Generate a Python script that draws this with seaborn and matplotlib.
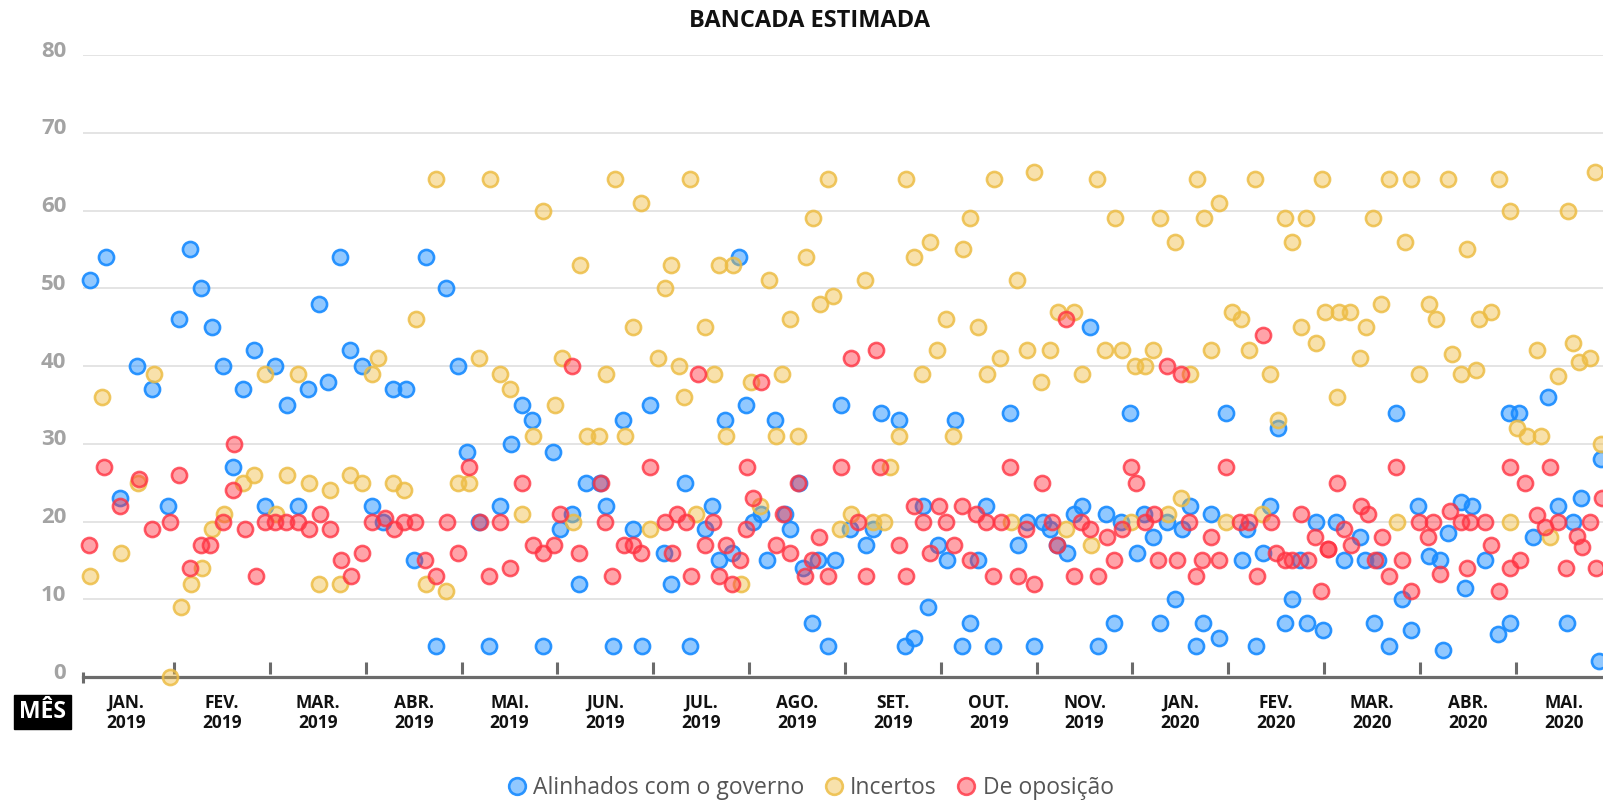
import matplotlib
matplotlib.use("Agg")
import matplotlib.pyplot as plt
import matplotlib.transforms as mtransforms
from matplotlib.lines import Line2D
import pandas as pd
import seaborn as sns

# posicao = mes desde jan/2019 (inteiro = inicio do mes; dezembro nao aparece no eixo)
meses = ["JAN.\n2019", "FEV.\n2019", "MAR.\n2019", "ABR.\n2019", "MAI.\n2019",
         "JUN.\n2019", "JUL.\n2019", "AGO.\n2019", "SET.\n2019", "OUT.\n2019",
         "NOV.\n2019", "JAN.\n2020", "FEV.\n2020", "MAR.\n2020", "ABR.\n2020",
         "MAI.\n2020"]

governo_mes = [0.12, 0.29, 0.44, 0.61, 0.77, 0.94, 1.05, 1.17, 1.28, 1.40, 1.51, 1.61, 1.72, 1.83,
               1.95, 2.05, 2.18, 2.29, 2.40, 2.51, 2.61, 2.73, 2.84, 2.96, 3.07, 3.18, 3.28, 3.42,
               3.50, 3.63, 3.73, 3.84, 3.96, 4.06, 4.18, 4.29, 4.40, 4.52, 4.63, 4.73, 4.85, 4.95,
               5.03, 5.15, 5.23, 5.30, 5.44, 5.51, 5.58, 5.68, 5.79, 5.88, 5.97, 6.11, 6.19, 6.33,
               6.38, 6.54, 6.61, 6.69, 6.75, 6.82, 6.89, 6.97, 7.04, 7.12, 7.19, 7.27, 7.37, 7.43,
               7.52, 7.56, 7.66, 7.72, 7.82, 7.90, 7.96, 8.05, 8.22, 8.29, 8.38, 8.56, 8.63, 8.72,
               8.81, 8.87, 8.97, 9.06, 9.15, 9.22, 9.31, 9.39, 9.47, 9.55, 9.72, 9.81, 9.90, 9.97,
               10.07, 10.14, 10.21, 10.32, 10.39, 10.47, 10.56, 10.64, 10.72, 10.81, 10.88, 10.97,
               11.05, 11.12, 11.21, 11.29, 11.36, 11.44, 11.52, 11.60, 11.66, 11.74, 11.82, 11.90,
               11.98, 12.14, 12.20, 12.29, 12.36, 12.44, 12.52, 12.59, 12.67, 12.75, 12.82, 12.92,
               12.99, 13.12, 13.21, 13.37, 13.43, 13.52, 13.56, 13.68, 13.75, 13.81, 13.91, 13.98,
               14.09, 14.21, 14.24, 14.29, 14.43, 14.47, 14.54, 14.68, 14.81, 14.93, 14.94, 15.03,
               15.18, 15.34, 15.44, 15.53, 15.60, 15.68, 15.87, 15.89]
governo_val = [51, 54, 23, 40, 37, 22, 46, 55, 50, 45, 40, 27, 37, 42,
               22, 40, 35, 22, 37, 48, 38, 54, 42, 40, 22, 20, 37, 37,
               15, 54, 4, 50, 40, 29, 20, 4, 22, 30, 35, 33, 4, 29,
               19, 21, 12, 25, 25, 22, 4, 33, 19, 4, 35, 16, 12, 25,
               4, 19, 22, 15, 33, 16, 54, 35, 20, 21, 15, 33, 21, 19,
               25, 14, 7, 15, 4, 15, 35, 19, 17, 19, 34, 33, 4, 5,
               22, 9, 17, 15, 33, 4, 7, 15, 22, 4, 34, 17, 20, 4,
               20, 19, 17, 16, 21, 22, 45, 4, 21, 7, 20, 34,
               16, 21, 18, 7, 20, 10, 19, 22, 4, 7, 21, 5,
               34, 15, 19, 4, 16, 22, 32, 7, 10, 15, 7, 20,
               6, 20, 15, 18, 15, 7, 15, 4, 34, 10, 6, 22,
               15.5, 15, 3.5, 18.5, 22.5, 11.5, 22, 15, 5.5, 34, 7, 34,
               18, 36, 22, 7, 20, 23, 2, 28]

incertos_mes = [0.12, 0.25, 0.45, 0.62, 0.79, 0.96, 1.07, 1.18, 1.29, 1.40, 1.52, 1.72, 1.83, 1.95,
                2.06, 2.18, 2.29, 2.41, 2.51, 2.63, 2.73, 2.84, 2.96, 3.07, 3.13, 3.28, 3.40, 3.52,
                3.63, 3.73, 3.84, 3.96, 4.08, 4.18, 4.30, 4.40, 4.51, 4.63, 4.74, 4.85, 4.97, 5.05,
                5.16, 5.24, 5.31, 5.43, 5.51, 5.60, 5.70, 5.79, 5.87, 5.97, 6.05, 6.12, 6.19, 6.27,
                6.32, 6.38, 6.45, 6.54, 6.63, 6.69, 6.76, 6.83, 6.92, 7.02, 7.11, 7.21, 7.28, 7.34,
                7.43, 7.51, 7.59, 7.67, 7.74, 7.82, 7.88, 7.95, 8.06, 8.21, 8.29, 8.41, 8.47, 8.56,
                8.64, 8.72, 8.80, 8.89, 8.96, 9.05, 9.13, 9.23, 9.30, 9.39, 9.48, 9.56, 9.62, 9.73,
                9.80, 9.90, 9.97, 10.05, 10.14, 10.22, 10.31, 10.39, 10.47, 10.57, 10.63, 10.71,
                10.82, 10.89, 10.99, 11.03, 11.13, 11.21, 11.29, 11.37, 11.44, 11.51, 11.60, 11.67,
                11.75, 11.82, 11.90, 11.98, 12.04, 12.13, 12.22, 12.28, 12.35, 12.44, 12.52, 12.59,
                12.67, 12.76, 12.81, 12.92, 12.98, 13.01, 13.13, 13.16, 13.27, 13.37, 13.44, 13.51,
                13.59, 13.68, 13.76, 13.84, 13.91, 13.99, 14.09, 14.17, 14.29, 14.33, 14.43, 14.49,
                14.58, 14.62, 14.74, 14.83, 14.94, 14.94, 15.01, 15.12, 15.22, 15.26, 15.36, 15.44,
                15.55, 15.60, 15.66, 15.77, 15.83, 15.89]
incertos_val = [13, 36, 16, 25, 39, 0, 9, 12, 14, 19, 21, 25, 26, 39,
                21, 26, 39, 25, 12, 24, 12, 26, 25, 39, 41, 25, 24, 46,
                12, 64, 11, 25, 25, 41, 64, 39, 37, 21, 31, 60, 35, 41,
                20, 53, 31, 31, 39, 64, 31, 45, 61, 19, 41, 50, 53, 40,
                36, 64, 21, 45, 39, 53, 31, 53, 12, 38, 22, 51, 31, 39,
                46, 31, 54, 59, 48, 64, 49, 19, 21, 51, 20, 20, 27, 31,
                64, 54, 39, 56, 42, 46, 31, 55, 59, 45, 39, 64, 41, 20,
                51, 42, 65, 38, 42, 47, 19, 47, 39, 17, 64, 42,
                59, 42, 20, 40, 40, 42, 59, 21, 56, 23, 39, 64,
                59, 42, 61, 20, 47, 46, 42, 64, 21, 39, 33, 59,
                56, 45, 59, 43, 64, 47, 36, 47, 47, 41, 45, 59,
                48, 64, 20, 56, 64, 39, 48, 46, 64, 41.5, 39, 55,
                39.5, 46, 47, 64, 60, 20, 32, 31, 42, 31, 18, 38.7,
                60, 43, 40.5, 41, 65, 30]

oposicao_mes = [0.11, 0.27, 0.44, 0.63, 0.77, 0.96, 1.05, 1.17, 1.28, 1.38, 1.51, 1.62, 1.63, 1.74,
                1.85, 1.95, 2.05, 2.17, 2.29, 2.41, 2.52, 2.63, 2.74, 2.85, 2.96, 3.06, 3.20, 3.29,
                3.40, 3.51, 3.62, 3.73, 3.85, 3.96, 4.08, 4.19, 4.29, 4.40, 4.51, 4.63, 4.75, 4.85,
                4.96, 5.03, 5.15, 5.23, 5.45, 5.50, 5.57, 5.69, 5.79, 5.87, 5.97, 6.12, 6.20, 6.25,
                6.34, 6.39, 6.47, 6.54, 6.62, 6.69, 6.76, 6.82, 6.90, 6.97, 6.98, 7.04, 7.12, 7.28,
                7.35, 7.43, 7.51, 7.58, 7.66, 7.73, 7.82, 7.96, 8.06, 8.14, 8.22, 8.32, 8.37, 8.56,
                8.64, 8.72, 8.81, 8.89, 8.98, 9.05, 9.14, 9.22, 9.30, 9.37, 9.47, 9.55, 9.63, 9.72,
                9.81, 9.89, 9.97, 10.06, 10.16, 10.21, 10.31, 10.39, 10.46, 10.56, 10.64, 10.73,
                10.81, 10.89, 10.98, 11.04, 11.13, 11.22, 11.27, 11.36, 11.46, 11.51, 11.59, 11.66,
                11.73, 11.82, 11.90, 11.98, 12.12, 12.22, 12.30, 12.36, 12.45, 12.50, 12.59, 12.66,
                12.76, 12.83, 12.91, 12.97, 13.04, 13.04, 13.13, 13.21, 13.28, 13.38, 13.46, 13.53,
                13.60, 13.68, 13.75, 13.81, 13.91, 13.99, 14.08, 14.14, 14.21, 14.31, 14.43, 14.49,
                14.52, 14.68, 14.74, 14.82, 14.94, 14.94, 15.04, 15.10, 15.22, 15.30, 15.36, 15.44,
                15.52, 15.64, 15.69, 15.77, 15.84, 15.90]
oposicao_val = [17, 27, 22, 25.5, 19, 20, 26, 14, 17, 17, 20, 24, 30, 19,
                13, 20, 20, 20, 20, 19, 21, 19, 15, 13, 16, 20, 20.5, 19,
                20, 20, 15, 13, 20, 16, 27, 20, 13, 20, 14, 25, 17, 16,
                17, 21, 40, 16, 25, 20, 13, 17, 17, 16, 27, 20, 16, 21,
                20, 13, 39, 17, 20, 13, 17, 12, 15, 19, 27, 23, 38, 17,
                21, 16, 25, 13, 15, 18, 13, 27, 41, 20, 13, 42, 27, 17,
                13, 22, 20, 16, 22, 20, 17, 22, 15, 21, 20, 13, 20, 27,
                13, 19, 12, 25, 20, 17, 46, 13, 20, 19, 13, 18,
                15, 19, 27, 25, 20, 21, 15, 40, 15, 39, 20, 13,
                15, 18, 15, 27, 20, 20, 13, 44, 20, 16, 15, 15,
                21, 15, 18, 11, 16.5, 16.5, 25, 19, 17, 22, 21, 15,
                18, 13, 27, 15, 11, 20, 18, 20, 13.3, 21.3, 20, 14,
                20, 20, 17, 11, 27, 14, 15, 25, 20.8, 19.3, 27, 20,
                14, 18.2, 16.7, 20, 14, 23]

grupos = ["Alinhados com o governo", "Incertos", "De oposição"]

df = pd.concat([
    pd.DataFrame({"mes": governo_mes, "deputados": governo_val, "grupo": grupos[0]}),
    pd.DataFrame({"mes": incertos_mes, "deputados": incertos_val, "grupo": grupos[1]}),
    pd.DataFrame({"mes": oposicao_mes, "deputados": oposicao_val, "grupo": grupos[2]}),
], ignore_index=True)

cores = {
    grupos[0]: ((0.10, 0.55, 1.00, 0.48), (0.10, 0.55, 1.00, 0.92)),
    grupos[1]: ((0.94, 0.74, 0.27, 0.45), (0.93, 0.74, 0.27, 0.85)),
    grupos[2]: ((1.00, 0.20, 0.26, 0.45), (1.00, 0.20, 0.26, 0.80)),
}

sns.set_style("white")
plt.rcParams["font.family"] = ["Open Sans", "DejaVu Sans"]

fig = plt.figure(figsize=(16.03, 8.01), dpi=100)
ax = fig.add_axes([0.0518, 0.1548, 0.9482, 0.7765])

for g in grupos:
    fill, edge = cores[g]
    sns.scatterplot(data=df[df["grupo"] == g], x="mes", y="deputados", ax=ax,
                    s=118, linewidth=1.9, legend=False, zorder=3)
    pts = ax.collections[-1]
    pts.set_facecolor(fill)
    pts.set_edgecolor(edge)
    pts.set_clip_on(False)

ax.set_xlim(0.05, 15.91)
ax.set_ylim(0, 80)
ax.set_yticks(range(0, 81, 10))
ax.grid(axis="y", color="#dcdcdc", linewidth=1.1, zorder=0)
ax.grid(axis="x", visible=False)
ax.set_axisbelow(True)
for side in ["top", "right", "left"]:
    ax.spines[side].set_visible(False)
ax.spines["bottom"].set_color("#6b6b6b")
ax.spines["bottom"].set_linewidth(2.3)
ax.spines["bottom"].set_zorder(2)

ax.tick_params(axis="y", length=0, pad=12, labelsize=16, labelcolor="#a3a3a3")
shift = mtransforms.ScaledTranslation(0, 0.065, fig.dpi_scale_trans)
for lab in ax.get_yticklabels():
    lab.set_fontweight("bold")
    lab.set_transform(lab.get_transform() + shift)

ax.set_xticks([i + 0.5 for i in range(len(meses))])
ax.set_xticklabels(meses, fontsize=12.5, fontweight="bold", color="#111111", linespacing=1.15)
ax.tick_params(axis="x", length=0, pad=12)
ax.set_xlabel("")
ax.set_ylabel("")

# marcas de inicio de mes
ax.vlines(range(1, len(meses)), 0.45, 1.9, color="#6b6b6b", linewidth=2.2, clip_on=False, zorder=2)
ax.vlines(0.05, -0.8, 0.7, color="#6b6b6b", linewidth=2.2, clip_on=False, zorder=2)

fig.text(0.0265, 0.111, "MÊS", color="white", fontsize=16.5, fontweight="bold",
         ha="center", va="center",
         bbox=dict(boxstyle="square,pad=0.22", facecolor="black", edgecolor="black"))

fig.text(0.505, 0.974, "BANCADA ESTIMADA", fontsize=17, fontweight="bold",
         ha="center", va="center", color="#111111")

handles = [Line2D([], [], marker="o", linestyle="", markersize=12,
                  markerfacecolor=cores[g][0], markeredgecolor=cores[g][1],
                  markeredgewidth=1.9) for g in grupos]
fig.legend(handles, grupos, loc="center", bbox_to_anchor=(0.505, 0.0165), ncol=3,
           frameon=False, fontsize=16.5, labelcolor="#555555", handletextpad=0.2,
           columnspacing=0.8, handlelength=1.0)

fig.savefig("out.png", dpi=100)
